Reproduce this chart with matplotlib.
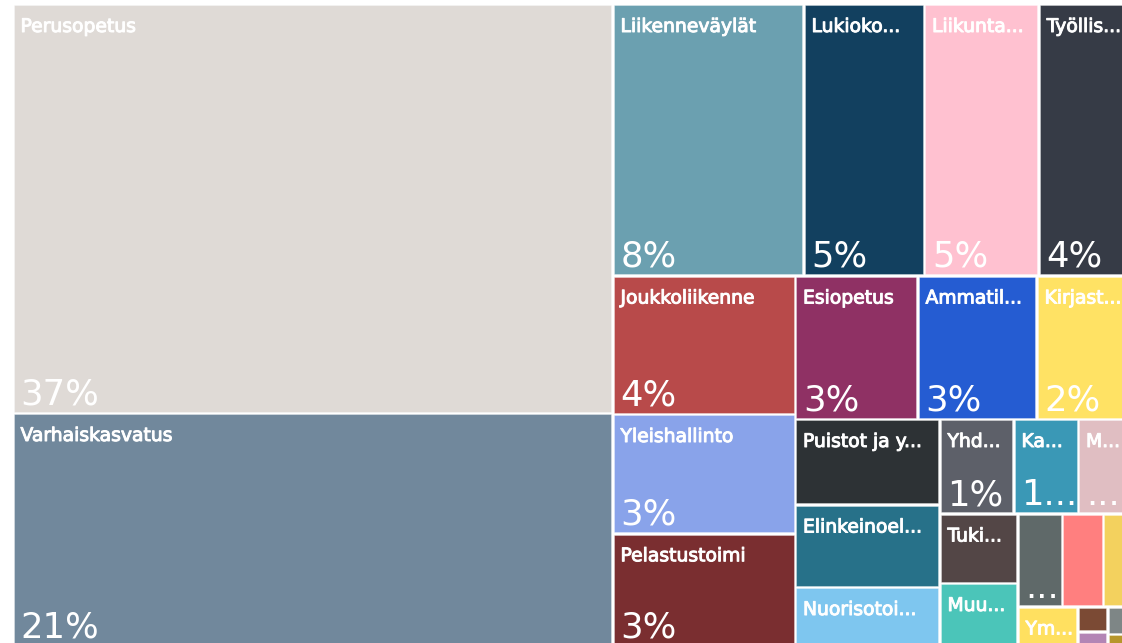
import matplotlib
matplotlib.use("Agg")
import matplotlib.pyplot as plt
import matplotlib.patheffects as pe
from matplotlib.patches import Rectangle

# ---------------- data (relative sizes) ----------------
labels = ["Perusopetus", "Varhaiskasvatus", "Liikenneväylät", "Lukioko...", "Liikunta...",
          "Työllis...", "Joukkoliikenne", "Yleishallinto", "Pelastustoimi", "Esiopetus",
          "Ammatil...", "Kirjast...", "Puistot ja y...", "Elinkeinoel...", "Nuorisotoi...",
          "Yhd...", "Ka...", "M...", "Tuki...", "Muu...",
          "", "", "", "Ym...", "", "", "", ""]
values = [245.40, 142.20, 51.86, 32.72, 31.14,
          27.50, 25.28, 21.77, 21.30, 17.58,
          17.08, 14.85, 12.36, 11.92, 9.10,
          6.99, 6.10, 5.86, 5.42, 5.23,
          4.14, 3.81, 3.44, 2.61, 0.75, 0.56, 0.89, 0.52]
pct_labels = ["37%", "21%", "8%", "5%", "5%",
              "4%", "4%", "3%", "3%", "3%",
              "3%", "2%", "", "", "",
              "1%", "1...", "...", "", "",
              "...", "", "", "", "", "", "", ""]
colors = ["#DFDAD6", "#71889C", "#6BA0B0", "#12405F", "#FFC1D0",
          "#363B46", "#B84A4A", "#89A3EA", "#7A2E30", "#8F3164",
          "#255CD2", "#FFE264", "#2D3235", "#277189", "#7EC6EF",
          "#5D6069", "#3A98B6", "#E0BEC2", "#534646", "#4BC5B9",
          "#5F6969", "#FF7F7F", "#F3D15E", "#FFE060", "#7B4A34",
          "#B385B5", "#7E8686", "#B7962B"]


# ---------------- squarified treemap (d3 style) ----------------
def squarify(vals, x0, y0, x1, y1, ratio=(1 + 5 ** 0.5) / 2):
    n = len(vals)
    rects = [None] * n
    value = float(sum(vals))
    i0 = i1 = 0
    while i0 < n:
        dx, dy = x1 - x0, y1 - y0
        s = vals[i1]
        i1 += 1
        mn = mx = s
        alpha = max(dy / dx, dx / dy) / (value * ratio)
        beta = s * s * alpha
        min_ratio = max(mx / beta, beta / mn)
        while i1 < n:
            nv = vals[i1]
            s += nv
            mn = min(mn, nv)
            mx = max(mx, nv)
            beta = s * s * alpha
            new_ratio = max(mx / beta, beta / mn)
            if new_ratio > min_ratio:
                s -= nv
                break
            min_ratio = new_ratio
            i1 += 1
        row = range(i0, i1)
        if dx < dy:  # horizontal strip on top
            yk = y0 + dy * s / value
            xx = x0
            for i in row:
                w = (x1 - x0) * vals[i] / s
                rects[i] = (xx, y0, xx + w, yk)
                xx += w
            y0 = yk
        else:  # vertical column on the left
            xk = x0 + dx * s / value
            yy = y0
            for i in row:
                h = (y1 - y0) * vals[i] / s
                rects[i] = (x0, yy, xk, yy + h)
                yy += h
            x0 = xk
        value -= s
        i0 = i1
    return rects


# ---------------- figure ----------------
FIG_W, FIG_H = 1122, 643
AX_X, AX_Y, AX_W, AX_H = 12.5, 4.0, 1127.5, 646.0   # pixels, the map runs past the frame

fig = plt.figure(figsize=(FIG_W / 100, FIG_H / 100), dpi=100)
fig.patch.set_facecolor("white")
ax = fig.add_axes([AX_X / FIG_W, 1 - (AX_Y + AX_H) / FIG_H, AX_W / FIG_W, AX_H / FIG_H])
ax.set_xlim(0, AX_W)
ax.set_ylim(AX_H, 0)
ax.axis("off")

rects = squarify(values, 0, 0, AX_W, AX_H)
GAP = 1.3
VISIBLE_BOTTOM = FIG_H - AX_Y - 5   # keep value labels inside the frame
name_font = dict(family=["DejaVu Sans"], weight="normal", fontsize=13.5, color="white",
                 path_effects=[pe.withStroke(linewidth=0.7, foreground="white")])
pct_font = dict(family=["DejaVu Sans"], weight="normal", fontsize=25.5, color="white")

for (x0, y0, x1, y1), col, lab, pl in zip(rects, colors, labels, pct_labels):
    ax.add_patch(Rectangle((x0 + GAP, y0 + GAP), (x1 - x0) - 2 * GAP, (y1 - y0) - 2 * GAP,
                           facecolor=col, edgecolor=(1, 1, 1, 0.35), linewidth=0.6, clip_on=False))
    if lab:
        ax.text(x0 + 8, y0 + 28, lab, ha="left", va="baseline", clip_on=False, **name_font)
    if pl:
        ax.text(x0 + 8, min(y1 - 8.5, VISIBLE_BOTTOM), pl, ha="left", va="baseline",
                clip_on=False, **pct_font)

fig.savefig("out.png", dpi=100, facecolor="white")
